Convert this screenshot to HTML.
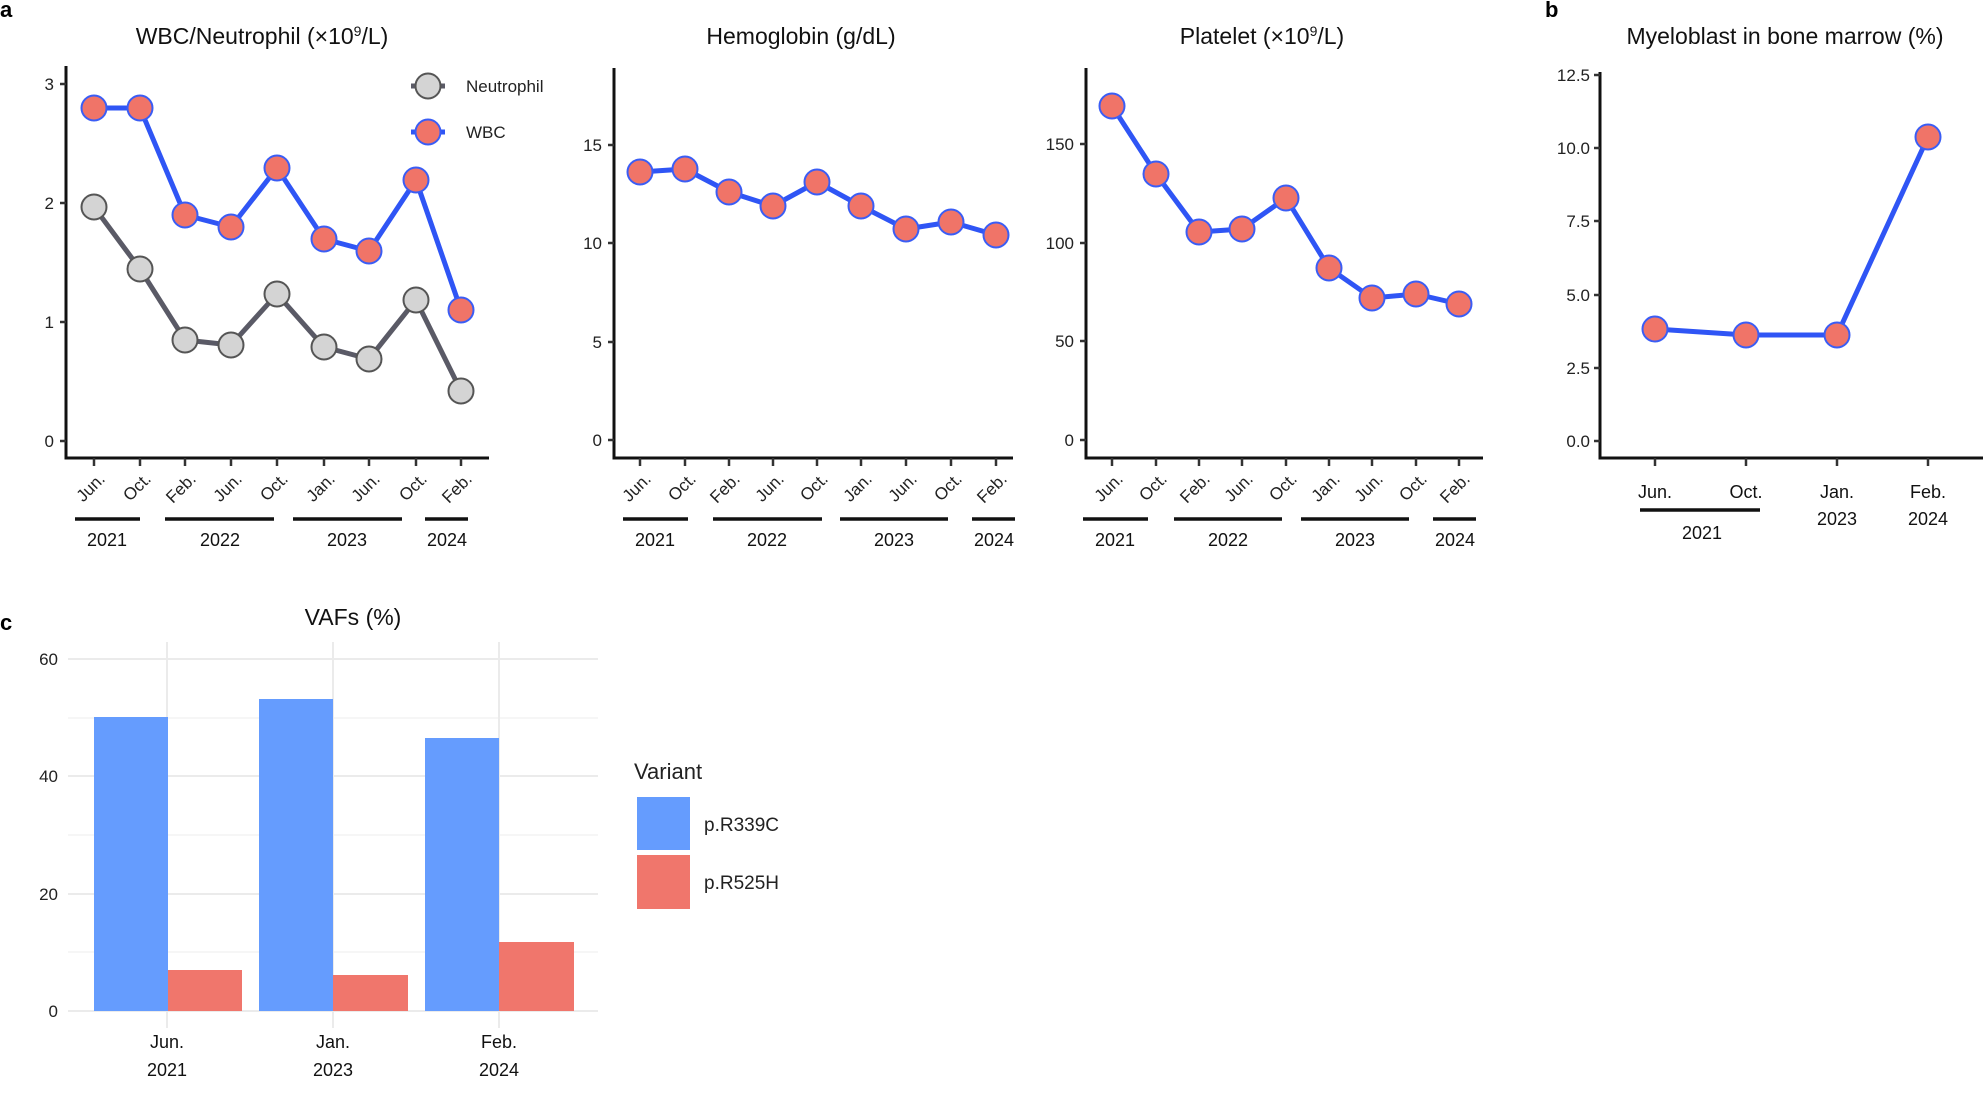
<!DOCTYPE html>
<html><head><meta charset="utf-8"><style>
html,body{margin:0;padding:0;background:#fff;}
svg{display:block;font-family:"Liberation Sans",Arial,sans-serif;}
.t{font-size:23px;fill:#111;text-anchor:middle}
.tk{font-size:17px;fill:#222}
.yl{font-size:17px;fill:#222;text-anchor:end}
.m{font-size:17px;fill:#222;text-anchor:end}
.yr{font-size:18px;fill:#111;text-anchor:middle}
.ax{stroke:#111;stroke-width:3;fill:none}
.tick{stroke:#333;stroke-width:2.5}
.bl{stroke:#2f55f5;stroke-width:5;fill:none;stroke-linejoin:round}
.gl{stroke:#5a5a66;stroke-width:5;fill:none;stroke-linejoin:round}
.w{fill:#f07468;stroke:#3a5df5;stroke-width:2}
.n{fill:#d4d4d4;stroke:#555;stroke-width:2}
.yrl{stroke:#111;stroke-width:3.5}
.grid{stroke:#ebebeb;stroke-width:2}
.gridm{stroke:#f3f3f3;stroke-width:1.5}
.lab{font-size:22px;font-weight:bold;fill:#000}
</style></head><body>
<svg width="1983" height="1113" viewBox="0 0 1983 1113" xmlns="http://www.w3.org/2000/svg">
<text class="lab" x="0" y="17">a</text>
<text class="lab" x="1545" y="17">b</text>
<text class="lab" x="0" y="630">c</text>

<!-- Panel 1 -->
<text class="t" x="262" y="44">WBC/Neutrophil (×10<tspan font-size="14" dy="-8">9</tspan><tspan dy="8">/L)</tspan></text>
<path class="ax" d="M66,66 V458 H489"/>
<g class="tick"><line x1="60" y1="84" x2="66" y2="84"/><line x1="60" y1="203" x2="66" y2="203"/><line x1="60" y1="322" x2="66" y2="322"/><line x1="60" y1="441" x2="66" y2="441"/></g>
<text class="yl" x="54" y="90">3</text><text class="yl" x="54" y="209">2</text><text class="yl" x="54" y="328">1</text><text class="yl" x="54" y="447">0</text>
<g class="tick"><line x1="94" y1="458" x2="94" y2="466"/><line x1="140" y1="458" x2="140" y2="466"/><line x1="185" y1="458" x2="185" y2="466"/><line x1="231" y1="458" x2="231" y2="466"/><line x1="277" y1="458" x2="277" y2="466"/><line x1="324" y1="458" x2="324" y2="466"/><line x1="369" y1="458" x2="369" y2="466"/><line x1="416" y1="458" x2="416" y2="466"/><line x1="461" y1="458" x2="461" y2="466"/></g>
<polyline class="gl" points="94,207 140,269 185,340 231,345 277,294 324,347 369,359 416,300 461,391"/>
<polyline class="bl" points="94,108 140,108 185,215 231,227 277,168 324,239 369,251 416,180 461,310"/>
<g class="n"><circle cx="94" cy="207" r="12.5"/><circle cx="140" cy="269" r="12.5"/><circle cx="185" cy="340" r="12.5"/><circle cx="231" cy="345" r="12.5"/><circle cx="277" cy="294" r="12.5"/><circle cx="324" cy="347" r="12.5"/><circle cx="369" cy="359" r="12.5"/><circle cx="416" cy="300" r="12.5"/><circle cx="461" cy="391" r="12.5"/></g>
<g class="w"><circle cx="94" cy="108" r="12.5"/><circle cx="140" cy="108" r="12.5"/><circle cx="185" cy="215" r="12.5"/><circle cx="231" cy="227" r="12.5"/><circle cx="277" cy="168" r="12.5"/><circle cx="324" cy="239" r="12.5"/><circle cx="369" cy="251" r="12.5"/><circle cx="416" cy="180" r="12.5"/><circle cx="461" cy="310" r="12.5"/></g>
<line class="gl" x1="411" y1="86" x2="445" y2="86"/><circle class="n" cx="428" cy="86" r="12.5"/>
<line class="bl" x1="411" y1="132" x2="445" y2="132"/><circle class="w" cx="428" cy="132" r="12.5"/>
<text class="tk" x="466" y="92" font-size="17">Neutrophil</text><text class="tk" x="466" y="138" font-size="17">WBC</text>
<g class="m">
<text transform="translate(106,480) rotate(-45)">Jun.</text><text transform="translate(152,480) rotate(-45)">Oct.</text><text transform="translate(197,480) rotate(-45)">Feb.</text><text transform="translate(243,480) rotate(-45)">Jun.</text><text transform="translate(289,480) rotate(-45)">Oct.</text><text transform="translate(336,480) rotate(-45)">Jan.</text><text transform="translate(381,480) rotate(-45)">Jun.</text><text transform="translate(428,480) rotate(-45)">Oct.</text><text transform="translate(473,480) rotate(-45)">Feb.</text>
</g>
<g class="yrl"><line x1="75" y1="519" x2="140" y2="519"/><line x1="165" y1="519" x2="274" y2="519"/><line x1="293" y1="519" x2="402" y2="519"/><line x1="425" y1="519" x2="468" y2="519"/></g>
<text class="yr" x="107" y="546">2021</text><text class="yr" x="220" y="546">2022</text><text class="yr" x="347" y="546">2023</text><text class="yr" x="447" y="546">2024</text>

<!-- Panel 2 -->
<text class="t" x="801" y="44">Hemoglobin (g/dL)</text>
<path class="ax" d="M614,68 V458 H1013"/>
<g class="tick"><line x1="608" y1="145" x2="614" y2="145"/><line x1="608" y1="243" x2="614" y2="243"/><line x1="608" y1="342" x2="614" y2="342"/><line x1="608" y1="440" x2="614" y2="440"/></g>
<text class="yl" x="602" y="151">15</text><text class="yl" x="602" y="249">10</text><text class="yl" x="602" y="348">5</text><text class="yl" x="602" y="446">0</text>
<g class="tick"><line x1="640" y1="458" x2="640" y2="466"/><line x1="685" y1="458" x2="685" y2="466"/><line x1="729" y1="458" x2="729" y2="466"/><line x1="773" y1="458" x2="773" y2="466"/><line x1="817" y1="458" x2="817" y2="466"/><line x1="861" y1="458" x2="861" y2="466"/><line x1="906" y1="458" x2="906" y2="466"/><line x1="951" y1="458" x2="951" y2="466"/><line x1="996" y1="458" x2="996" y2="466"/></g>
<polyline class="bl" points="640,172 685,169 729,192 773,206 817,182 861,206 906,229 951,222 996,235"/>
<g class="w"><circle cx="640" cy="172" r="12.5"/><circle cx="685" cy="169" r="12.5"/><circle cx="729" cy="192" r="12.5"/><circle cx="773" cy="206" r="12.5"/><circle cx="817" cy="182" r="12.5"/><circle cx="861" cy="206" r="12.5"/><circle cx="906" cy="229" r="12.5"/><circle cx="951" cy="222" r="12.5"/><circle cx="996" cy="235" r="12.5"/></g>
<g class="m">
<text transform="translate(652,480) rotate(-45)">Jun.</text><text transform="translate(697,480) rotate(-45)">Oct.</text><text transform="translate(741,480) rotate(-45)">Feb.</text><text transform="translate(785,480) rotate(-45)">Jun.</text><text transform="translate(829,480) rotate(-45)">Oct.</text><text transform="translate(873,480) rotate(-45)">Jan.</text><text transform="translate(918,480) rotate(-45)">Jun.</text><text transform="translate(963,480) rotate(-45)">Oct.</text><text transform="translate(1008,480) rotate(-45)">Feb.</text>
</g>
<g class="yrl"><line x1="623" y1="519" x2="688" y2="519"/><line x1="713" y1="519" x2="822" y2="519"/><line x1="840" y1="519" x2="948" y2="519"/><line x1="972" y1="519" x2="1015" y2="519"/></g>
<text class="yr" x="655" y="546">2021</text><text class="yr" x="767" y="546">2022</text><text class="yr" x="894" y="546">2023</text><text class="yr" x="994" y="546">2024</text>

<!-- Panel 3 -->
<text class="t" x="1262" y="44">Platelet (×10<tspan font-size="14" dy="-8">9</tspan><tspan dy="8">/L)</tspan></text>
<path class="ax" d="M1086,68 V458 H1483"/>
<g class="tick"><line x1="1080" y1="144" x2="1086" y2="144"/><line x1="1080" y1="243" x2="1086" y2="243"/><line x1="1080" y1="341" x2="1086" y2="341"/><line x1="1080" y1="440" x2="1086" y2="440"/></g>
<text class="yl" x="1074" y="150">150</text><text class="yl" x="1074" y="249">100</text><text class="yl" x="1074" y="347">50</text><text class="yl" x="1074" y="446">0</text>
<g class="tick"><line x1="1112" y1="458" x2="1112" y2="466"/><line x1="1156" y1="458" x2="1156" y2="466"/><line x1="1199" y1="458" x2="1199" y2="466"/><line x1="1242" y1="458" x2="1242" y2="466"/><line x1="1286" y1="458" x2="1286" y2="466"/><line x1="1329" y1="458" x2="1329" y2="466"/><line x1="1372" y1="458" x2="1372" y2="466"/><line x1="1416" y1="458" x2="1416" y2="466"/><line x1="1459" y1="458" x2="1459" y2="466"/></g>
<polyline class="bl" points="1112,106 1156,174 1199,232 1242,229 1286,198 1329,268 1372,298 1416,294 1459,304"/>
<g class="w"><circle cx="1112" cy="106" r="12.5"/><circle cx="1156" cy="174" r="12.5"/><circle cx="1199" cy="232" r="12.5"/><circle cx="1242" cy="229" r="12.5"/><circle cx="1286" cy="198" r="12.5"/><circle cx="1329" cy="268" r="12.5"/><circle cx="1372" cy="298" r="12.5"/><circle cx="1416" cy="294" r="12.5"/><circle cx="1459" cy="304" r="12.5"/></g>
<g class="m">
<text transform="translate(1124,480) rotate(-45)">Jun.</text><text transform="translate(1168,480) rotate(-45)">Oct.</text><text transform="translate(1211,480) rotate(-45)">Feb.</text><text transform="translate(1254,480) rotate(-45)">Jun.</text><text transform="translate(1298,480) rotate(-45)">Oct.</text><text transform="translate(1341,480) rotate(-45)">Jan.</text><text transform="translate(1384,480) rotate(-45)">Jun.</text><text transform="translate(1428,480) rotate(-45)">Oct.</text><text transform="translate(1471,480) rotate(-45)">Feb.</text>
</g>
<g class="yrl"><line x1="1083" y1="519" x2="1148" y2="519"/><line x1="1174" y1="519" x2="1282" y2="519"/><line x1="1301" y1="519" x2="1409" y2="519"/><line x1="1433" y1="519" x2="1476" y2="519"/></g>
<text class="yr" x="1115" y="546">2021</text><text class="yr" x="1228" y="546">2022</text><text class="yr" x="1355" y="546">2023</text><text class="yr" x="1455" y="546">2024</text>

<!-- Panel 4 -->
<text class="t" x="1785" y="44">Myeloblast in bone marrow (%)</text>
<path class="ax" d="M1600,72 V458 H1983"/>
<g class="tick"><line x1="1594" y1="75" x2="1600" y2="75"/><line x1="1594" y1="148" x2="1600" y2="148"/><line x1="1594" y1="221" x2="1600" y2="221"/><line x1="1594" y1="295" x2="1600" y2="295"/><line x1="1594" y1="368" x2="1600" y2="368"/><line x1="1594" y1="441" x2="1600" y2="441"/></g>
<text class="yl" x="1590" y="81">12.5</text><text class="yl" x="1590" y="154">10.0</text><text class="yl" x="1590" y="227">7.5</text><text class="yl" x="1590" y="301">5.0</text><text class="yl" x="1590" y="374">2.5</text><text class="yl" x="1590" y="447">0.0</text>
<g class="tick"><line x1="1655" y1="458" x2="1655" y2="466"/><line x1="1746" y1="458" x2="1746" y2="466"/><line x1="1837" y1="458" x2="1837" y2="466"/><line x1="1928" y1="458" x2="1928" y2="466"/></g>
<polyline class="bl" points="1655,329 1746,335 1837,335 1928,137"/>
<g class="w"><circle cx="1655" cy="329" r="12.5"/><circle cx="1746" cy="335" r="12.5"/><circle cx="1837" cy="335" r="12.5"/><circle cx="1928" cy="137" r="12.5"/></g>
<text class="yr" x="1655" y="498">Jun.</text><text class="yr" x="1746" y="498">Oct.</text><text class="yr" x="1837" y="498">Jan.</text><text class="yr" x="1928" y="498">Feb.</text>
<line class="yrl" x1="1640" y1="510" x2="1760" y2="510"/>
<text class="yr" x="1702" y="539">2021</text><text class="yr" x="1837" y="525">2023</text><text class="yr" x="1928" y="525">2024</text>

<!-- Panel c -->
<text class="t" x="353" y="625">VAFs (%)</text>
<g class="gridm"><line x1="68" y1="952" x2="598" y2="952"/><line x1="68" y1="835" x2="598" y2="835"/><line x1="68" y1="718" x2="598" y2="718"/></g>
<g class="grid"><line x1="68" y1="1011" x2="598" y2="1011"/><line x1="68" y1="894" x2="598" y2="894"/><line x1="68" y1="776" x2="598" y2="776"/><line x1="68" y1="659" x2="598" y2="659"/>
<line x1="167" y1="642" x2="167" y2="1028"/><line x1="333" y1="642" x2="333" y2="1028"/><line x1="499" y1="642" x2="499" y2="1028"/></g>
<g fill="#659cfe"><rect x="94" y="717" width="74" height="294"/><rect x="259" y="699" width="74" height="312"/><rect x="425" y="738" width="74" height="273"/></g>
<g fill="#f0766c"><rect x="168" y="970" width="74" height="41"/><rect x="333" y="975" width="75" height="36"/><rect x="499" y="942" width="75" height="69"/></g>
<text class="yl" x="58" y="665">60</text><text class="yl" x="58" y="782">40</text><text class="yl" x="58" y="900">20</text><text class="yl" x="58" y="1017">0</text>
<text class="yr" x="167" y="1048">Jun.</text><text class="yr" x="333" y="1048">Jan.</text><text class="yr" x="499" y="1048">Feb.</text>
<text class="yr" x="167" y="1076">2021</text><text class="yr" x="333" y="1076">2023</text><text class="yr" x="499" y="1076">2024</text>
<text x="634" y="779" font-size="22" fill="#222">Variant</text>
<rect x="637" y="797" width="53" height="53" fill="#659cfe"/>
<rect x="637" y="855" width="53" height="54" fill="#f0766c"/>
<text x="704" y="831" font-size="19" fill="#222">p.R339C</text>
<text x="704" y="889" font-size="19" fill="#222">p.R525H</text>
</svg>
</body></html>
